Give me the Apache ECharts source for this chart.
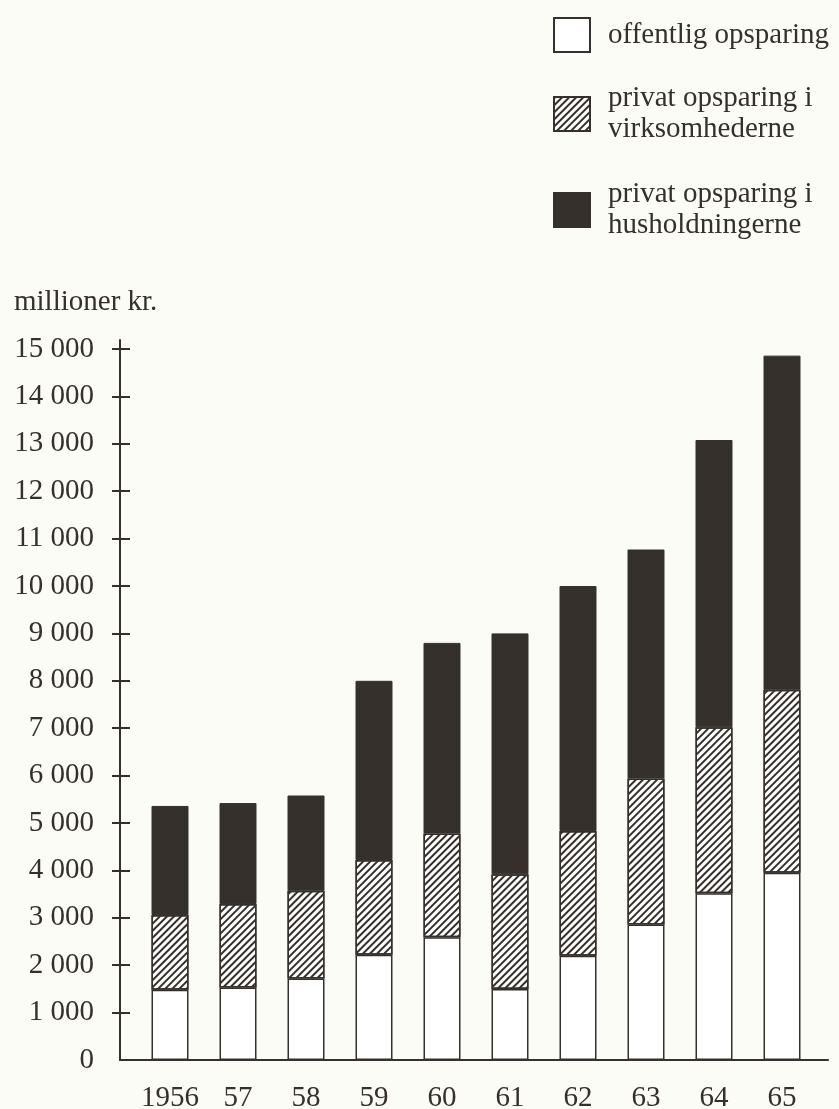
<!DOCTYPE html>
<html>
<head>
<meta charset="utf-8">
<script src="https://cdn.jsdelivr.net/npm/echarts@6/dist/echarts.min.js"></script>
<style>
html,body{margin:0;padding:0;background:#fcfcf7;}
#c{width:839px;height:1109px;}
</style>
</head>
<body>
<div id="c"></div>
<script>
var years = ['1956','57','58','59','60','61','62','63','64','65'];
var offentlig = [1480,1530,1720,2220,2590,1500,2200,2860,3520,3950];
var virksomheder = [1580,1760,1850,2000,2190,2420,2630,3080,3500,3860];
var husholdninger = [2300,2130,2010,3780,4020,5080,5170,4830,6060,7050];
var yTicks = [1000,2000,3000,4000,5000,6000,7000,8000,9000,10000,11000,12000,13000,14000,15000];
var names = ['offentlig opsparing','privat opsparing i virksomhederne','privat opsparing i husholdningerne'];
var legendLabels = ['offentlig opsparing','privat opsparing i\nvirksomhederne','privat opsparing i\nhusholdningerne'];

var INK = '#35302b';
var BG = '#fcfcf7';
var FONT = 'Liberation Serif';

function fmt(v){ return String(v).replace(/\B(?=(\d{3})+(?!\d))/g,' '); }

var chart = echarts.init(document.getElementById('c'));
function legendAt(i, top){
  return {
    data:[names[i]], left:548, top:top, orient:'vertical', icon:'rect',
    itemWidth:36, itemHeight:34, selectedMode:false,
    formatter:function(){ return legendLabels[i]; },
    textStyle:{fontFamily:FONT, fontSize:29, color:INK, lineHeight:31, padding:[0,0,0,13]}
  };
}
chart.setOption({
  backgroundColor: BG,
  animation:false,
  title:{text:'millioner kr.', left:9, top:283, textStyle:{fontFamily:FONT, fontSize:29, fontWeight:'normal', color:INK}},
  legend:[legendAt(0,12), legendAt(1,78), legendAt(2,174)],
  grid:[
    {left:136, right:23, top:349, bottom:49, outerBoundsMode:'none', containLabel:false},
    {left:120, right:11, top:340, bottom:49, outerBoundsMode:'none', containLabel:false}
  ],
  xAxis:[
    {type:'category', gridIndex:0, data:years,
     axisLine:{show:false}, axisTick:{show:false},
     axisLabel:{fontFamily:FONT, fontSize:29, color:INK, margin:24, interval:0}},
    {type:'value', gridIndex:1, min:0, max:1,
     axisLine:{show:true, lineStyle:{color:INK, width:2}},
     axisTick:{show:false}, axisLabel:{show:false}, splitLine:{show:false}}
  ],
  yAxis:[
    {type:'value', gridIndex:0, position:'left', min:0, max:15000, interval:1000, offset:16,
     axisLine:{show:false}, splitLine:{show:false},
     axisTick:{show:true, inside:false, length:8, customValues:yTicks, lineStyle:{color:INK, width:2}},
     axisLabel:{fontFamily:FONT, fontSize:29, color:INK, margin:26, formatter:fmt}},
    {type:'value', gridIndex:0, position:'left', min:0, max:15000, interval:1000, offset:16,
     axisLine:{show:false}, splitLine:{show:false},
     axisTick:{show:true, inside:true, length:10, customValues:yTicks, lineStyle:{color:INK, width:2}},
     axisLabel:{show:false}},
    {type:'value', gridIndex:1, position:'left', min:0, max:1,
     axisLine:{show:true, lineStyle:{color:INK, width:2}},
     axisTick:{show:false}, axisLabel:{show:false}, splitLine:{show:false}}
  ],
  series:[
    {name:names[0], type:'bar', stack:'s', xAxisIndex:0, yAxisIndex:0, barWidth:37, data:offentlig,
     itemStyle:{color:'#ffffff', borderColor:INK, borderWidth:1.5}},
    {name:names[1], type:'bar', stack:'s', xAxisIndex:0, yAxisIndex:0, barWidth:37, data:virksomheder,
     itemStyle:{color:'#ffffff', borderColor:INK, borderWidth:1.5,
       decal:{symbol:'rect', symbolSize:1, dashArrayX:[1,0], dashArrayY:[1.5,2.5], rotation:-Math.PI/4, color:INK}}},
    {name:names[2], type:'bar', stack:'s', xAxisIndex:0, yAxisIndex:0, barWidth:37, data:husholdninger,
     itemStyle:{color:INK, borderColor:INK, borderWidth:1}}
  ]
});
</script>
</body>
</html>
